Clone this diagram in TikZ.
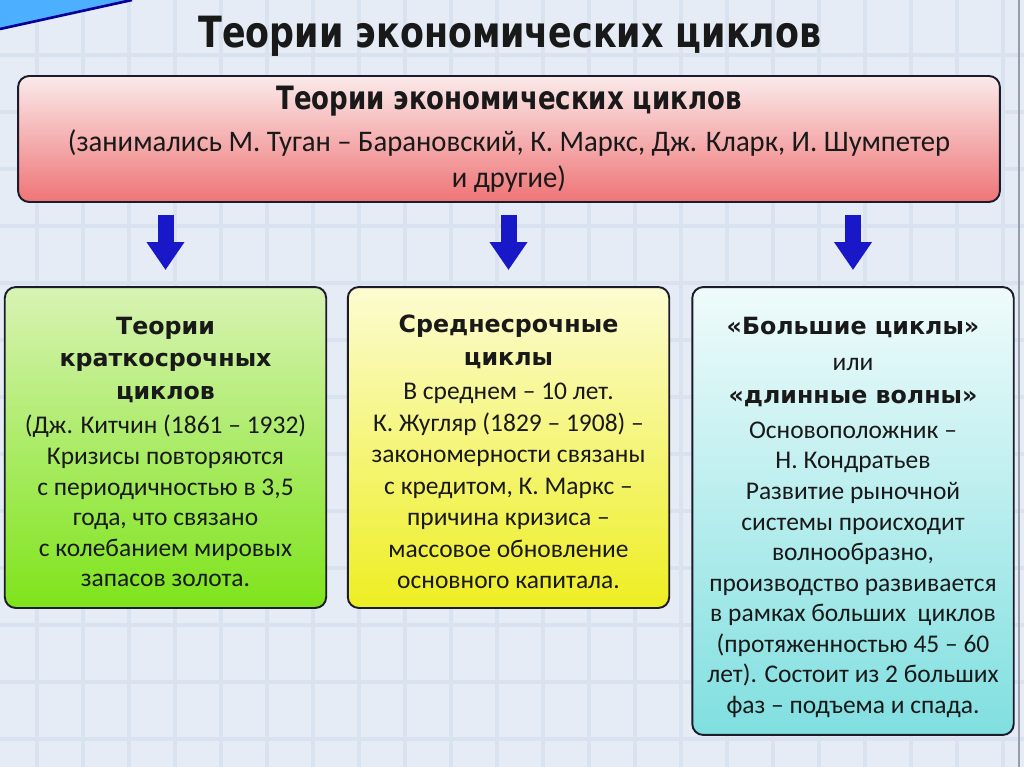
\documentclass[tikz,border=0pt]{standalone}
\usepackage{fontspec}
\setmainfont{Carlito}
\newfontfamily\headfont{DejaVu Sans}
\newfontfamily\titlefont{DejaVu Sans Condensed}[FakeStretch=0.9]
\newfontfamily\narrowfont{Carlito}[Ligatures=TeX,FakeStretch=0.96]
\usetikzlibrary{
  arrows.meta,
  positioning,  % Function "of" (e.g. [below=of x])
  calc,         % Calculations $...$
}
\definecolor{bgcol}{HTML}{D9E2EF}
\definecolor{tilecol}{HTML}{E5ECF5}
\definecolor{boxborder}{HTML}{1B1B2B}
\definecolor{arrowblue}{HTML}{1818C8}
\definecolor{pinktop}{HTML}{FBEAEA}
\definecolor{pinkbot}{HTML}{EF7476}
\definecolor{greentop}{HTML}{D8F3B4}
\definecolor{greenbot}{HTML}{7EE41A}
\definecolor{yellowtop}{HTML}{FCFCD2}
\definecolor{yellowbot}{HTML}{EEEE22}
\definecolor{cyantop}{HTML}{F0FBFB}
\definecolor{cyanbot}{HTML}{80DFE0}
\newcommand{\hd}[1]{{\headfont\bfseries\fontsize{13.5}{17.9}\selectfont #1}}
\newcommand{\tp}[1]{\rule{0pt}{#1}} % pushes the text block down a little
\def\myboxw{6.43cm}
\def\myboxh{6.42cm}
\tikzset{
  x=0.02cm,
  y=-0.02cm,
  my box/.style={
    draw=boxborder,
    line width=1.1pt,
    rounded corners=2.2mm,
    rectangle,
    align=center,
    inner sep=0mm,
    minimum width=\myboxw,
    minimum height=\myboxh,
    font=\fontsize{14.5}{17.4}\selectfont,
    text=black!90
  },
  my arrow/.style={
    draw=arrowblue,
    line width=0.32cm,
    -{Triangle[width=0.72cm,length=0.56cm]},
    shorten <=0.24cm,
    shorten >=0.32cm
  },
  my title/.style={
    font=\titlefont\bfseries\fontsize{24.5}{28}\selectfont,
    text=black!90
  }
}
\begin{document}
\begin{tikzpicture}
\useasboundingbox (0,0) rectangle (1024,767);
% background tiles
\fill[bgcol] (0,0) rectangle (1024,767);
\foreach \i in {0,...,22}
  \foreach \j in {0,...,13}
    \fill[tilecol] ({-9+46*\i+2},{-2+57*\j+2}) rectangle ++(42,53);
\fill[blue!45!cyan!70!white] (0,0) -- (132,0) -- (0,29) -- cycle;
\draw[line width=1.5pt,blue!60!black] (0,29) -- (132,0);
\draw[line width=1pt,black!30!bgcol] (1019,0) -- (1019,767);

\node[my title] (title) at (510,36) {Теории экономических циклов};

\node[my box,minimum width=19.64cm,minimum height=2.52cm,
      font=\narrowfont\fontsize{17}{20.3}\selectfont,
      top color=pinktop,bottom color=pinkbot] (top) at (509,139)
  {{\titlefont\bfseries\fontsize{18.3}{22}\selectfont Теории экономических циклов}\\[4pt]
   (занимались М. Туган -- Барановский, К. Маркс, Дж. Кларк, И. Шумпетер\\
   и другие)};

\node[my box,top color=greentop,bottom color=greenbot] (short) at (165.5,447.5)
  {\tp{15pt}\hd{Теории}\\[1pt] \hd{краткосрочных}\\[1pt] \hd{циклов}\\[2.5pt]
   (Дж. Китчин (1861 -- 1932)\\ Кризисы повторяются\\
   с периодичностью в 3,5\\ года, что связано\\
   с колебанием мировых\\ запасов золота.};
\node[my box,font=\fontsize{14.5}{17.9}\selectfont,
      top color=yellowtop,bottom color=yellowbot] (mid) at (508.5,447.5)
  {\tp{15pt}\hd{Среднесрочные}\\[1pt] \hd{циклы}\\[1.5pt]
   В среднем -- 10 лет.\\ К. Жугляр (1829 -- 1908) --\\
   закономерности связаны\\ с кредитом, К. Маркс --\\
   причина кризиса --\\ массовое обновление\\ основного капитала.};
\node[my box,minimum height=8.96cm,top color=cyantop,bottom color=cyanbot] (long) at (853,511)
  {\tp{17pt}\hd{«Большие циклы»}\\[3.5pt] или\\[1pt] \hd{«длинные волны»}\\[2.5pt]
   Основоположник --\\ Н. Кондратьев\\ Развитие рыночной\\
   системы происходит\\ волнообразно,\\ производство развивается\\
   в рамках больших\ \ циклов\\ (протяженностью 45 -- 60\\
   лет). Состоит из 2 больших\\ фаз -- подъема и спада.};

\draw[my arrow] (top.south -| short.north) -- (short.north);
\draw[my arrow] (top.south -| mid.north) -- (mid.north);
\draw[my arrow] (top.south -| long.north) -- (long.north);
\end{tikzpicture}
\end{document}
